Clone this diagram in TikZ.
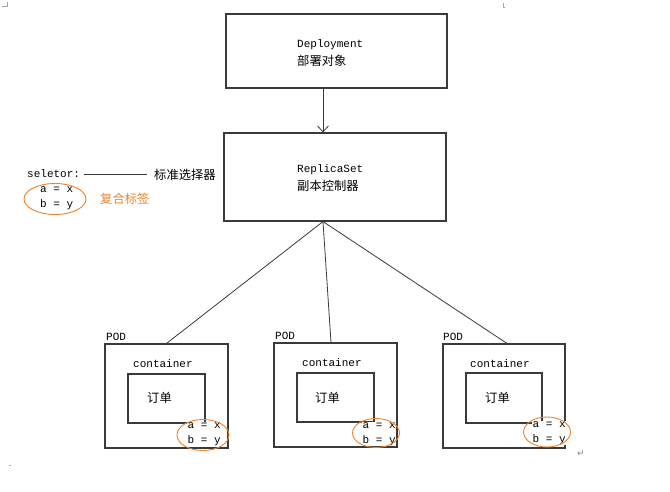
\documentclass[tikz,border=0pt]{standalone}
\usepackage{fontspec}
\setmonofont{Liberation Mono}
\newfontfamily\cjk{Noto Sans CJK SC}
\newfontfamily\symf{DejaVu Sans}
\usetikzlibrary{arrows.meta,calc,shapes.geometric}
\definecolor{lineg}{HTML}{3A3A3A}
\definecolor{orng}{HTML}{F0822A}
\tikzset{
  box/.style={draw=lineg, line width=1.1pt, rectangle, inner sep=0pt},
  mono/.style={font=\ttfamily\fontsize{11}{15}\selectfont, inner sep=0pt, anchor=west, align=left},
  cn/.style={font=\cjk\fontsize{12.3}{15}\selectfont, inner sep=0pt, anchor=west},
  conn/.style={draw=lineg, line width=0.8pt},
  lbl/.style={draw=orng, line width=0.9pt, ellipse},
}
\begin{document}
\begin{tikzpicture}[x=1pt,y=-1pt]
\useasboundingbox[fill=white] (0,0) rectangle (670,492);
% page marks
\draw[gray!70, line width=0.5pt] (2,6) -- (7,6) -- (7,2);
\draw[gray!70, line width=0.5pt] (503,3) -- (503,7) -- (505,7);
\draw[gray!70, line width=0.5pt] (9,465) -- (11,465);
% top boxes
\node[box, minimum width=221pt, minimum height=74pt] (dep) at (336.5,51) {};
\node[mono] (deptxt) at (297,45) {Deployment};
\node[cn] (depcn) at (297,61) {部署对象};
\node[box, minimum width=222pt, minimum height=88pt] (rs) at (335,177) {};
\node[mono] (rstxt) at (297,170) {ReplicaSet};
\node[cn] (rscn) at (297,186) {副本控制器};
\draw[conn, -{Straight Barb[length=6pt,width=11pt]}] ([xshift=-13.5pt]dep.south) -- ([xshift=-12pt]rs.north);
% selector legend
\node[mono] (sel) at (27,174) {seletor:};
\node[cn] (std) at (154,175) {标准选择器};
\draw[conn] (84,174) coordinate (sl1) -- (147,174) coordinate (sl2);
\node[mono, font=\ttfamily\fontsize{11}{15.5}\selectfont] (selab) at (40,198) {a = x\\b = y};
\node[lbl, minimum width=62pt, minimum height=31pt, inner sep=0pt] (selell) at (55,199) {};
\node[cn, text=orng] (fh) at (100,199) {复合标签};
% pods
\node[box, minimum width=123pt, minimum height=104pt] (pod1) at (166.5,396) {};
\node[box, minimum width=123pt, minimum height=104pt] (pod2) at (335.5,395) {};
\node[box, minimum width=122pt, minimum height=104pt] (pod3) at (504,396) {};
\node[mono] (p1l) at (106,337) {POD};
\node[mono] (p2l) at (275,336) {POD};
\node[mono] (p3l) at (443,337) {POD};
\node[mono] (c1) at (133,364) {container};
\node[mono] (c2) at (302,363) {container};
\node[mono] (c3) at (470,364) {container};
\node[box, minimum width=77pt, minimum height=49pt] (in1) at (166.5,398.5) {};
\node[box, minimum width=77pt, minimum height=49pt] (in2) at (335.5,397.5) {};
\node[box, minimum width=76pt, minimum height=50pt] (in3) at (504,398) {};
\node[cn] (o1) at (147,398) {订单};
\node[cn] (o2) at (315,398) {订单};
\node[cn] (o3) at (485,398) {订单};
\node[mono, fill=white, inner sep=0.5pt] (ab1) at (187,434) {a = x\\b = y};
\node[mono, fill=white, inner sep=0.5pt] (ab2) at (362,434) {a = x\\b = y};
\node[mono, fill=white, inner sep=0.5pt] (ab3) at (532,433) {a = x\\b = y};
\node[lbl, minimum width=52pt, minimum height=31pt, inner sep=0pt] (e1) at (203,435) {};
\node[lbl, minimum width=47pt, minimum height=29pt, inner sep=0pt] (e2) at (376,433) {};
\node[lbl, minimum width=47pt, minimum height=30pt, inner sep=0pt] (e3) at (547,432) {};
% connectors
\coordinate (rsb) at ([xshift=-12pt]rs.south);
\draw[conn] (rsb) -- (pod1.north);
\draw[conn] (rsb) -- ([xshift=-4.5pt]pod2.north);
\draw[conn] (rsb) -- ([xshift=3pt]pod3.north);
\node[font=\symf\fontsize{9}{10}\selectfont, text=gray, inner sep=0pt] (ret) at (581,454) {↵};
\end{tikzpicture}
\end{document}
